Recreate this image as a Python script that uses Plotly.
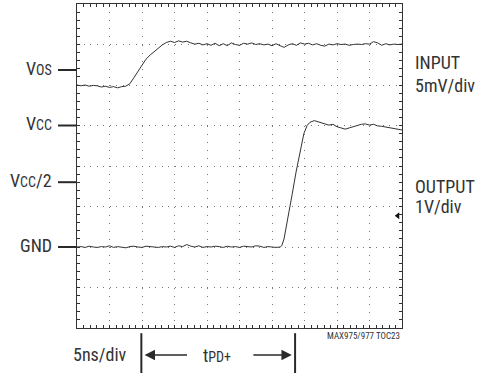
import numpy as np
import plotly.graph_objects as go

# ---- data (divisions: x 0..10, y 0..8) ----
in_t = np.arange(0, 10.001, 0.125)
in_v = [6.00, 5.98, 6.00, 5.97, 5.99, 5.98, 5.95, 5.97, 5.94, 5.96,
        5.93, 5.96, 5.97, 6.03, 6.18, 6.33, 6.50, 6.64, 6.74, 6.83,
        6.92, 6.99, 7.05, 7.08, 7.05, 7.09, 7.06, 7.08, 7.04, 7.01,
        7.03, 6.99, 7.02, 6.98, 7.03, 6.97, 7.02, 6.97, 7.04, 7.00,
        6.98, 7.03, 7.01, 7.04, 7.00, 7.02, 6.99, 7.01, 6.97, 7.02,
        6.97, 6.93, 6.99, 7.02, 6.98, 7.04, 7.01, 7.03, 6.99, 7.02,
        6.98, 6.96, 7.01, 6.99, 7.02, 7.00, 7.01, 6.98, 7.00, 7.01,
        7.00, 7.02, 7.01, 7.07, 7.04, 6.98, 7.02, 6.99, 7.01, 7.00,
        7.01]

out_flat_t = np.arange(0, 6.2501, 0.125)
out_flat_v = [2.00, 2.01, 1.99, 2.02, 2.00, 1.99, 2.01, 2.00, 2.03, 1.99,
              2.01, 2.00, 1.98, 2.01, 2.02, 2.00, 1.99, 2.02, 2.01, 2.00,
              1.99, 2.01, 2.00, 2.02, 1.99, 2.03, 2.01, 2.06, 2.02, 2.00,
              2.03, 1.99, 2.01, 2.00, 2.02, 2.01, 1.99, 2.02, 2.00, 2.01,
              1.99, 2.02, 2.01, 2.00, 2.03, 2.02, 1.99, 2.01, 2.00, 1.99,
              2.00]
out_rise_t = [6.30, 6.37, 6.49, 6.62, 6.74, 6.86, 6.98, 7.08, 7.17, 7.30]
out_rise_v = [2.03, 2.20, 2.70, 3.30, 3.85, 4.35, 4.80, 5.00, 5.08, 5.12]
out_top_t = np.arange(7.375, 10.001, 0.125)
out_top_v = [5.10, 5.07, 5.05, 5.01, 5.03, 4.97, 4.94, 4.91, 4.94, 4.97,
             5.00, 5.03, 5.04, 5.01, 5.03, 4.99, 4.98, 4.96, 4.94, 4.92,
             4.90, 4.89]
out_t = list(out_flat_t) + out_rise_t + list(out_top_t)
out_v = out_flat_v + out_rise_v + out_top_v

level_names = ["V<span style='font-size:14px'>OS</span>",
               "V<span style='font-size:14px'>CC</span>",
               "V<span style='font-size:14px'>CC</span>/2",
               "GND"]
level_vals = [6.37, 5.0, 3.6, 2.0]

right_labels = ["INPUT", "5mV/div", "OUTPUT", "1V/div"]
right_vals = [6.55, 6.0, 3.5, 3.0]

t_start, t_end = 1.98, 6.71

FONT = "Roboto Condensed, Liberation Sans Narrow, Arial Narrow, Liberation Sans, sans-serif"
LC = "#2a2a2a"
TC = "#333"

fig = go.Figure()
fig.add_trace(go.Scatter(x=in_t, y=in_v, mode="lines",
                         line=dict(color="#333", width=1), showlegend=False))
fig.add_trace(go.Scatter(x=out_t, y=out_v, mode="lines",
                         line=dict(color="#333", width=1), showlegend=False))
fig.add_trace(go.Scatter(x=[9.87], y=[2.77], mode="markers",
                         marker=dict(symbol="triangle-left", size=6, color="#111"),
                         showlegend=False))

axcommon = dict(showticklabels=False, showline=True, linecolor="#333", linewidth=1,
                mirror="ticks", ticks="inside", ticklen=3, tickcolor="#333",
                zeroline=False, showgrid=True, gridcolor="#777", gridwidth=1,
                fixedrange=True)
fig.update_xaxes(range=[0, 10], dtick=1, tick0=0, griddash="1px,7.1px",
                 minor=dict(dtick=0.2, tick0=0, ticks="inside", ticklen=3,
                            tickcolor="#333", showgrid=False), **axcommon)
fig.update_yaxes(range=[0, 8], dtick=1, tick0=0, griddash="1px,5.5px",
                 minor=dict(dtick=0.2, tick0=0, ticks="inside", ticklen=3,
                            tickcolor="#333", showgrid=False), **axcommon)

shapes = []
annots = []
for name, v in zip(level_names, level_vals):
    shapes.append(dict(type="line", xref="paper", yref="y", x0=-0.0585, x1=0,
                       y0=v, y1=v, line=dict(color=LC, width=2)))
    annots.append(dict(xref="paper", yref="y", x=-0.07, y=v + 0.04, text=name,
                       showarrow=False, xanchor="right", yanchor="middle",
                       font=dict(family=FONT, size=18, color=TC)))

for txt, yv in zip(right_labels, right_vals):
    annots.append(dict(xref="paper", yref="y", x=1.033, y=yv, text=txt,
                       showarrow=False, xanchor="left", yanchor="middle",
                       font=dict(family=FONT, size=18, color=TC)))

# bottom
annots.append(dict(xref="paper", yref="paper", x=-0.018, y=-0.082, text="5ns/div",
                   showarrow=False, xanchor="left", yanchor="middle",
                   font=dict(family=FONT, size=18, color=TC)))
annots.append(dict(xref="x", yref="paper", x=4.3, y=-0.085,
                   text="t<span style='font-size:14px'>PD+</span>",
                   showarrow=False, xanchor="center", yanchor="middle",
                   font=dict(family=FONT, size=18, color=TC)))
annots.append(dict(xref="paper", yref="paper", x=1.0, y=-0.024,
                   text="MAX975/977 TOC23", showarrow=False,
                   xanchor="right", yanchor="middle",
                   font=dict(family=FONT, size=9, color=TC)))
for xb in [t_start, t_end]:
    shapes.append(dict(type="line", xref="x", yref="paper", x0=xb, x1=xb,
                       y0=-0.016, y1=-0.14, line=dict(color=LC, width=2)))
# arrows
annots.append(dict(xref="x", yref="paper", axref="x", ayref="pixel",
                   x=t_start + 0.1, y=-0.0835, ax=3.43, ay=0, text="",
                   showarrow=True, arrowhead=2, arrowsize=1.3, arrowwidth=1.6,
                   arrowcolor=LC))
annots.append(dict(xref="x", yref="paper", axref="x", ayref="pixel",
                   x=t_end - 0.1, y=-0.0835, ax=5.38, ay=0, text="",
                   showarrow=True, arrowhead=2, arrowsize=1.3, arrowwidth=1.6,
                   arrowcolor=LC))

fig.update_layout(width=478, height=373,
                  margin=dict(l=77, r=76, t=4, b=45),
                  paper_bgcolor="white", plot_bgcolor="white",
                  shapes=shapes, annotations=annots,
                  font=dict(family=FONT))

fig.write_html("out.html", config={"displayModeBar": False})
